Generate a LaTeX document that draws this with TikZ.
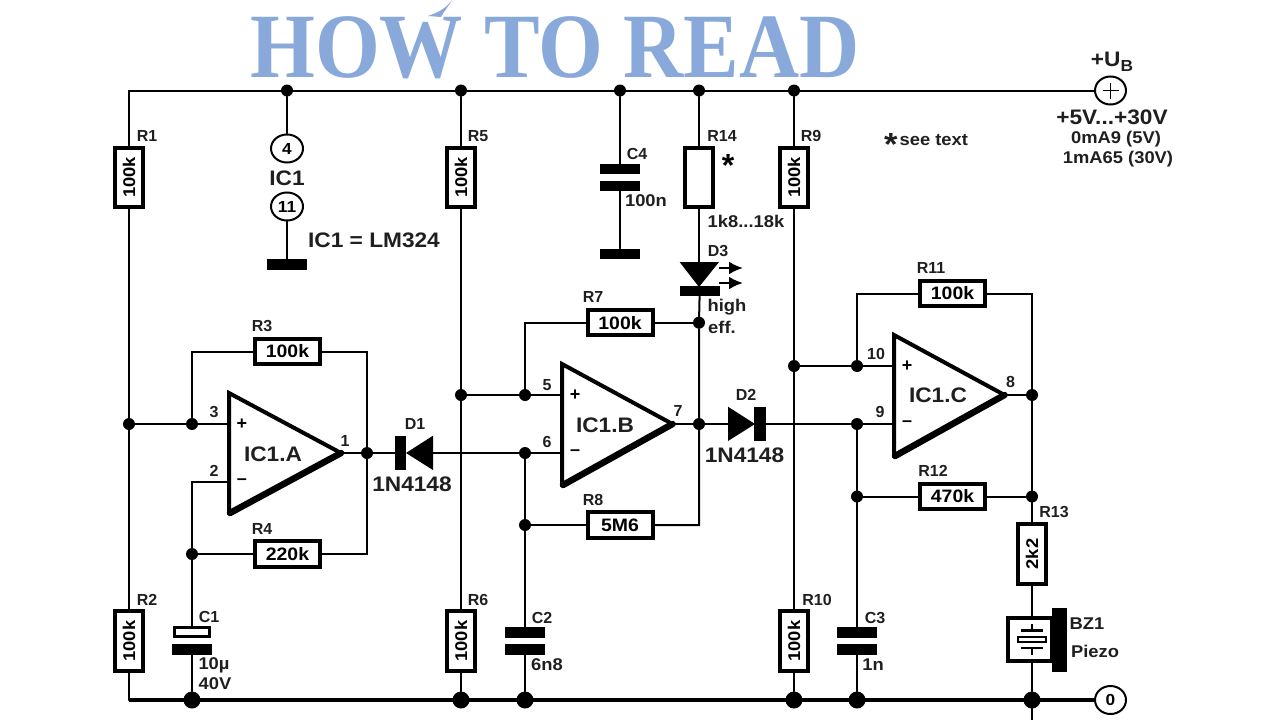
\documentclass[tikz,border=0pt]{standalone}
\usepackage{fontspec}
\usetikzlibrary{shapes.geometric,arrows.meta}
\setmainfont{Liberation Sans}
\newfontfamily\wf[FakeStretch=1.08]{Liberation Sans}
\newfontfamily\titlef[FakeStretch=0.906]{Liberation Serif}
\definecolor{titleblue}{HTML}{8AA9DB}
\newcommand{\fs}[1]{\fontsize{#1}{#1}\selectfont}
\tikzset{
  wire/.style={line width=2pt,line cap=round},
  rail/.style={line width=3.6pt},
  lbl/.style={inner sep=0pt,font=\bfseries\fs{16},text=black!88},
  wl/.style={inner sep=0pt,font=\wf\bfseries\fs{17},text=black!88},
  big/.style={inner sep=0pt,font=\wf\bfseries\fs{21},text=black!88},
  rv/.style={draw,fill=white,line width=4pt,rotate=90,minimum width=59.5pt,minimum height=28.5pt,inner sep=0pt,font=\wf\bfseries\fs{17}},
  rh/.style={draw,fill=white,line width=4pt,minimum width=65pt,minimum height=25.5pt,inner sep=0pt,font=\wf\bfseries\fs{18}},
  dot/.style={circle,fill=black,inner sep=0pt,minimum size=12pt},
  bdot/.style={circle,fill=black,inner sep=0pt,minimum size=17pt},
  term/.style={ellipse,draw,fill=white,line width=2pt,minimum width=31pt,minimum height=28pt,inner sep=0pt,font=\wf\bfseries\fs{16}},
  ptr/.style={line width=2.6pt,-{Latex[length=14pt,width=13pt]}}
}
\newcommand{\lb}[5][lbl]{\node[#1] (#2) at (#3,#4) {#5};}
\begin{document}
\begin{tikzpicture}[x=1pt,y=-1pt]
\useasboundingbox (0,0) rectangle (1280,720);
% title
\node[inner sep=0pt,anchor=base west,text=titleblue,font=\titlef\bfseries\fs{92}] (title) at (250,77) {HOW TO READ};
\fill[titleblue] (428,16) .. controls (440,12) and (447,7) .. (452,0) .. controls (449,6) and (444,11) .. (441,17) -- cycle;

% junctions and corners
\coordinate (tl) at (129,90.5);
\coordinate (bl) at (129,700);
\foreach \n/\x/\y in {t1/287/90.5,t2/461/90.5,t3/620/90.5,t4/699/90.5,t5/794/90.5,
  j3/129/424,j3b/192/424,j2b/192/554,j1/367/453,
  j5a/461/395,j5b/525/395,j6/525/453,j8/525/525,j7r/699/322.7,j7/699/424,
  j10a/794/366,j10b/857/366,j9/857/424,j12/857/496.5,j8o/1032/395,j12r/1032/496.5}
  {\node[dot] (\n) at (\x,\y) {};}
\foreach \n/\x in {b1/192,b2/461,b3/525,b4/794,b5/857,b6/1032}
  {\node[bdot] (\n) at (\x,700) {};}
\node[term] (ub) at (1110.5,90.5) {};
\node[term] (zero) at (1110.5,700) {0};
\draw[line width=1.6pt] ([xshift=-8pt]ub.center) -- ([xshift=8pt]ub.center) ([yshift=-8pt]ub.center) -- ([yshift=8pt]ub.center);
\coordinate (cR3l) at (192,351.5); \coordinate (cR3r) at (367,351.5);
\coordinate (cR4r) at (367,554);
\coordinate (c2) at (192,481.7);
\coordinate (cR7l) at (525,322.7);
\coordinate (cR8r) at (699,525);
\coordinate (cR11l) at (857,293.5); \coordinate (cR11r) at (1032,293.5);
\coordinate (bottom) at (1032,720);

% op-amp terminals
\coordinate (Ap) at (229,424); \coordinate (Am) at (229,481.7); \coordinate (Ao) at (341,453);
\coordinate (Bp) at (562,395); \coordinate (Bm) at (562,453); \coordinate (Bo) at (672.5,424);
\coordinate (Cp) at (894,366); \coordinate (Cm) at (894,424); \coordinate (Co) at (1004.5,395);

% resistors
\node[rv] (R1) at (129,177.5) {100k};
\node[rv] (R2) at (129,641) {100k};
\node[rv] (R5) at (461,177.5) {100k};
\node[rv] (R6) at (461,641) {100k};
\node[rv] (R9) at (794,177.5) {100k};
\node[rv] (R10) at (794,641) {100k};
\node[rv] (R14) at (699,177.5) {};
\node[rv] (R13) at (1032,554) {2k2};
\node[rh] (R3) at (287.5,351.5) {100k};
\node[rh] (R4) at (287.5,554) {220k};
\node[rh] (R7) at (620,322.7) {100k};
\node[rh] (R8) at (620,525) {5M6};
\node[rh] (R11) at (952.5,293.5) {100k};
\node[rh] (R12) at (952.5,496.5) {470k};

% IC1 supply
\node[term,minimum width=32pt] (p4) at (287,148.5) {4};
\node[term,minimum width=32pt] (p11) at (287,206.5) {11};
\node[inner sep=0pt,minimum width=39.5pt,minimum height=11pt,fill=black] (g1) at (287,264.5) {};
\node[inner sep=0pt,minimum width=40pt,minimum height=10pt,fill=black] (g2) at (620,253.5) {};

% capacitors
\node[inner sep=0pt,minimum width=40pt,minimum height=10.5pt,fill=black] (C4a) at (620,169) {};
\node[inner sep=0pt,minimum width=40pt,minimum height=10.5pt,fill=black] (C4b) at (620,186) {};
\node[inner sep=0pt,minimum width=40pt,minimum height=10.5pt,fill=black] (C2a) at (525,632.5) {};
\node[inner sep=0pt,minimum width=40pt,minimum height=10.5pt,fill=black] (C2b) at (525,649.5) {};
\node[inner sep=0pt,minimum width=40pt,minimum height=10.5pt,fill=black] (C3a) at (857,632.5) {};
\node[inner sep=0pt,minimum width=40pt,minimum height=10.5pt,fill=black] (C3b) at (857,649.5) {};
\node[draw,fill=white,line width=2.2pt,inner sep=0pt,minimum width=35pt,minimum height=9pt] (C1a) at (192,632) {};
\node[inner sep=0pt,minimum width=40pt,minimum height=10.5pt,fill=black] (C1b) at (192,649.5) {};

% buzzer
\node[draw,fill=white,line width=3.4pt,inner sep=0pt,minimum width=44pt,minimum height=43pt] (BZ) at (1030,639.5) {};
\node[inner sep=0pt,minimum width=15pt,minimum height=64pt,fill=black] (BZb) at (1059.5,640) {};
\node[draw,line width=2pt,inner sep=0pt,minimum width=28pt,minimum height=5pt] (BZm) at (1032,639.7) {};
\draw[line width=2.6pt] (1032,624) -- (1032,630.5) (1021,630.5) -- (1043,630.5)
   (1021,648) -- (1043,648) (1032,648) -- (1032,655);

% diodes
\node[inner sep=0pt,minimum width=11.5pt,minimum height=34.5pt,fill=black] (D1b) at (400.7,453) {};
\coordinate (D1k) at (433,453);
\fill (406,453) -- (433,435.7) -- (433,470) -- cycle;
\node[inner sep=0pt,minimum width=11.5pt,minimum height=34.5pt,fill=black] (D2b) at (760,424) {};
\coordinate (D2a) at (728,424);
\fill (755,424) -- (728,406.7) -- (728,441) -- cycle;
\coordinate (D3a) at (699,262);
\fill (679.6,262) -- (719,262) -- (699,287) -- cycle;
\node[inner sep=0pt,minimum width=40pt,minimum height=10.7pt,fill=black] (D3b) at (699.7,291) {};
\draw[ptr] (719,268) -- (743,268);
\draw[ptr] (719,283) -- (743,283);

% wires
\draw[wire] (bl) -- (R2.west);
\draw[wire] (R2.east) -- (j3) -- (R1.west);
\draw[wire] (R1.east) -- (tl) -- (ub);
\draw[rail] (bl) -- (zero);
\draw[wire] (t1) -- (p4);
\draw[wire] (p11) -- (g1);
\draw[wire] (t2) -- (R5.east);
\draw[wire] (R5.west) -- (j5a) -- (R6.east);
\draw[wire] (R6.west) -- (b2);
\draw[wire] (t3) -- (C4a);
\draw[wire] (C4b) -- (g2);
\draw[wire] (t4) -- (R14.east);
\draw[wire] (R14.west) -- (D3a);
\draw[wire] (D3b) -- (j7r) -- (j7) -- (cR8r) -- (R8.east);
\draw[wire] (t5) -- (R9.east);
\draw[wire] (R9.west) -- (j10a) -- (R10.east);
\draw[wire] (R10.west) -- (b4);
\draw[wire] (j3) -- (Ap);
\draw[wire] (j3b) -- (cR3l) -- (R3.west);
\draw[wire] (R3.east) -- (cR3r) -- (cR4r) -- (R4.east);
\draw[wire] (R4.west) -- (j2b);
\draw[wire] (Am) -- (c2) -- (j2b) -- (C1a);
\draw[wire] (C1b) -- (b1);
\draw[wire] (Ao) -- (D1b);
\draw[wire] (D1k) -- (Bm);
\draw[wire] (j5a) -- (Bp);
\draw[wire] (j5b) -- (cR7l) -- (R7.west);
\draw[wire] (R7.east) -- (j7r);
\draw[wire] (j6) -- (C2a);
\draw[wire] (C2b) -- (b3);
\draw[wire] (j8) -- (R8.west);
\draw[wire] (Bo) -- (D2a);
\draw[wire] (D2b) -- (Cm);
\draw[wire] (j10a) -- (Cp);
\draw[wire] (j10b) -- (cR11l) -- (R11.west);
\draw[wire] (R11.east) -- (cR11r) -- (j8o) -- (j12r) -- (R13.east);
\draw[wire] (Co) -- (j8o);
\draw[wire] (j9) -- (C3a);
\draw[wire] (C3b) -- (b5);
\draw[wire] (j12) -- (R12.west);
\draw[wire] (R12.east) -- (j12r);
\draw[wire] (R13.west) -- (BZ.north -| R13);
\draw[wire] (BZ.south -| R13) -- (b6) -- (bottom);

% op-amps
\draw[line width=4pt,line join=miter] (229,514) -- (229,393) -- (341,453);
\draw[line width=6.5pt,line cap=round] (230,513) -- (341,453);
\draw[line width=4pt,line join=miter] (562,486) -- (562,364) -- (672.5,424);
\draw[line width=6.5pt,line cap=round] (563,485) -- (672.5,424);
\draw[line width=4pt,line join=miter] (894,457) -- (894,335) -- (1004.5,395);
\draw[line width=6.5pt,line cap=round] (895,456) -- (1004.5,395);

% labels
\lb{lR1}{147}{136}{R1}
\lb{lR2}{147}{600}{R2}
\lb{lR3}{262}{326}{R3}
\lb{lR4}{262}{529}{R4}
\lb{lR5}{478}{136}{R5}
\lb{lR6}{478}{600}{R6}
\lb{lR7}{593}{297}{R7}
\lb{lR8}{593}{500}{R8}
\lb{lR9}{811}{136}{R9}
\lb{lR10}{817}{600}{R10}
\lb{lR11}{931}{268}{R11}
\lb{lR12}{933}{471}{R12}
\lb{lR13}{1054}{512}{R13}
\lb{lR14}{722}{136}{R14}
\lb{lC1}{209}{617}{C1}
\lb{lC2}{542}{618}{C2}
\lb{lC3}{875}{618}{C3}
\lb{lC4}{637}{154}{C4}
\lb{lD1}{415}{423.5}{D1}
\lb{lD2}{746}{395}{D2}
\lb{lD3}{718}{251}{D3}
\lb[wl]{v100n}{646}{201}{100n}
\lb[wl]{v10u}{214}{665}{10µ}
\lb[wl]{v40}{215}{684}{40V}
\lb[wl]{v6n8}{547}{665}{6n8}
\lb[wl]{v1n}{873}{665}{1n}
\lb[wl]{vh}{727}{307}{high}
\lb[wl]{ve}{722}{327}{eff.}
\lb[wl]{vr14}{746}{221}{1k8...18k}
\lb[wl]{lBZ}{1087}{624}{BZ1}
\lb[wl]{lPz}{1095}{651}{Piezo}
\lb[big]{lIC}{287}{178}{IC1}
\lb[big]{lLM}{374}{240}{IC1 = LM324}
\lb[big]{lA}{273}{454}{IC1.A}
\lb[big]{lB}{605}{425}{IC1.B}
\lb[big]{lC}{938}{395}{IC1.C}
\lb[big]{lD1v}{412}{484}{1N4148}
\lb[big]{lD2v}{744.5}{455}{1N4148}
\lb[big]{lUB}{1112}{62}{+U\raisebox{-5pt}{\fs{16}B}}
\lb[big]{lV}{1112}{117}{+5V...+30V}
\lb[wl]{lI1}{1116}{139}{0mA9 (5V)}
\lb[wl]{lI2}{1118}{159}{1mA65 (30V)}
\lb{lp3}{214}{412}{3}
\lb{lp2}{214}{471}{2}
\lb{lp1}{345}{441}{1}
\lb{lp5}{547}{385}{5}
\lb{lp6}{547}{442}{6}
\lb{lp7}{678}{411}{7}
\lb{lp10}{876}{354}{10}
\lb{lp9}{880}{412}{9}
\lb{lp8}{1010.5}{382}{8}
\foreach \n/\x/\y/\t in {pa/242/424/+,ma/242/481.7/\textendash,pb/575/395/+,mb/575/453/\textendash,pc/907/366/+,mc/907/424/\textendash}
  {\node[inner sep=0pt,font=\bfseries\fs{18}] (s\n) at (\x,\y) {\t};}
\node[inner sep=0pt,font=\bfseries\fs{32}] (star) at (728,165) {*};
\node[wl,anchor=base west] (see) at (884,145) {\raisebox{-10pt}{\fs{32}*}\hspace{2pt}see text};
\end{tikzpicture}
\end{document}
